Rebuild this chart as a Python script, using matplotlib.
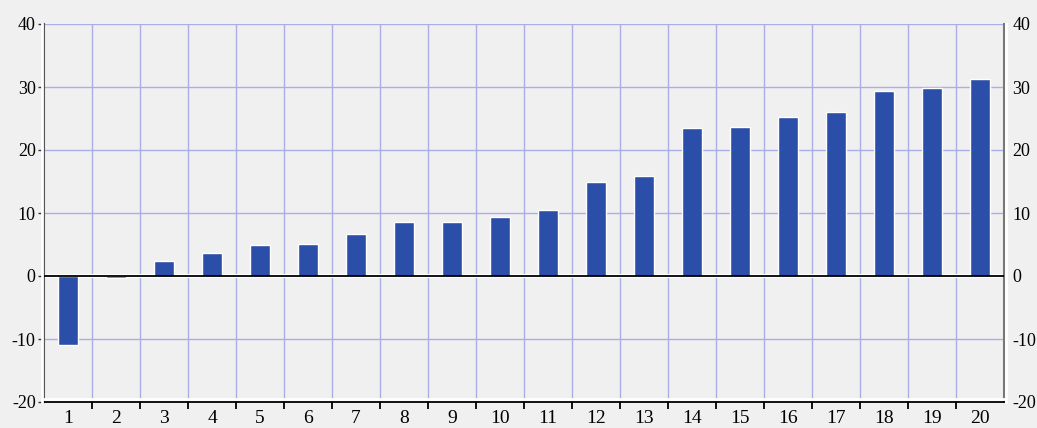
import numpy as np
import matplotlib.pyplot as plt

categories = [str(i) for i in range(1, 21)]
values = [-11.0, -0.3, 2.4, 3.7, 4.9, 5.1, 6.7, 8.5, 8.5, 9.3,
          10.4, 15.0, 15.9, 23.5, 23.7, 25.2, 26.0, 29.4, 29.8, 31.3]
y_ticks = [-20, -10, 0, 10, 20, 30, 40]

plt.rcParams['font.family'] = ['Liberation Serif', 'DejaVu Serif']
plt.rcParams['axes.unicode_minus'] = False

bg = '#f0f0f0'
grid_color = '#a9aee6'
bar_color = '#2b4fa8'

fig = plt.figure(figsize=(10.37, 4.28), dpi=100, facecolor=bg)
ax = fig.add_axes([44 / 1037, 26 / 428, 960 / 1037, 378 / 428])
ax.set_facecolor(bg)

x = np.arange(1, len(values) + 1)

# grid
for yv in y_ticks[1:]:
    ax.axhline(yv, color=grid_color, lw=1, zorder=1)
for xv in x[:-1] + 0.5:
    ax.axvline(xv, color=grid_color, lw=1, zorder=1)

ax.bar(x, values, width=0.4, color=bar_color, edgecolor='white', linewidth=1, zorder=3)

# zero line with white highlight
ax.axhline(0, color='white', lw=3, zorder=2)
ax.axhline(0, color='black', lw=1.3, zorder=4)

ax.set_xlim(0.5, 20.5)
ax.set_ylim(-20, 40)

ax.set_xticks(x)
ax.set_xticklabels(categories)
ax.set_xticks(x[:-1] + 0.5, minor=True)
ax.tick_params(axis='x', which='major', length=0, pad=6, labelsize=14)
ax.tick_params(axis='x', which='minor', length=5, width=1.3, color='black', direction='out')

ax.set_yticks(y_ticks)
ax.tick_params(axis='y', which='major', length=4, width=1, color='#333333',
               labelsize=13, left=True, right=False, labelleft=True, labelright=True, pad=2)

ax.spines['top'].set_visible(False)
ax.spines['left'].set_color('#555555')
ax.spines['left'].set_linewidth(1.5)
ax.spines['right'].set_color('#777777')
ax.spines['right'].set_linewidth(1.5)
ax.spines['bottom'].set_color('black')
ax.spines['bottom'].set_linewidth(1.3)

# white highlight lines along axes
ax.plot([0.5, 20.5], [-19.6, -19.6], color='white', lw=2, zorder=5, clip_on=False)
ax.plot([0.45, 0.45], [-20, 40], color='white', lw=2, zorder=5, clip_on=False)
ax.plot([20.55, 20.55], [-20, 40], color='white', lw=2, zorder=5, clip_on=False)

fig.savefig('out.png', dpi=100, facecolor=bg)
